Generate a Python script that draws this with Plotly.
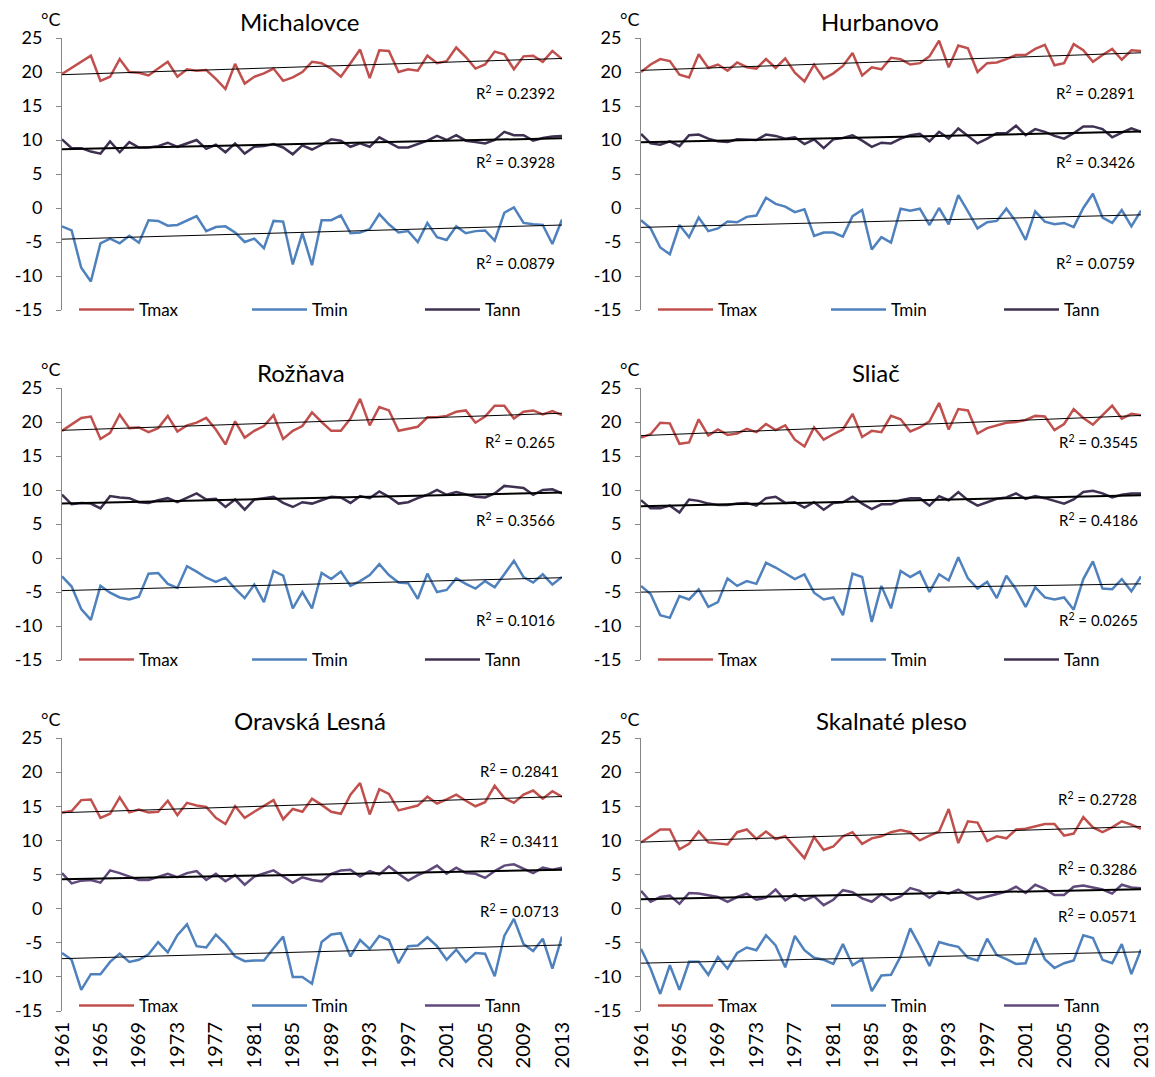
import plotly.graph_objects as go
import numpy as np

W, H = 1155, 1077
years = list(range(1961, 2014))
tick_years = list(range(1961, 2014, 4))
y_ticks = [-15, -10, -5, 0, 5, 10, 15, 20, 25]
y_ticktext = ["-15", "-10", "-5", "0", "5", "10", "15", "20", "25"]

# ---- data (°C), 1961..2013 ----
michalovce_tmax = [19.7, 20.6, 21.5, 22.4, 18.7, 19.3, 21.9, 20.0, 19.9, 19.5,
                   20.5, 21.5, 19.3, 20.4, 20.2, 20.3, 19.0, 17.5, 21.2, 18.3,
                   19.3, 19.8, 20.5, 18.7, 19.2, 20.0, 21.5, 21.3, 20.5, 19.3,
                   21.3, 23.3, 19.1, 23.2, 23.1, 20.0, 20.4, 20.2, 22.4, 21.3,
                   21.6, 23.6, 22.2, 20.5, 21.1, 23.0, 22.6, 20.4, 22.3, 22.4,
                   21.5, 23.1, 21.9]
michalovce_tmin = [-2.7, -3.3, -8.8, -10.8, -5.2, -4.5, -5.2, -4.1, -5.1, -1.8,
                   -1.9, -2.6, -2.5, -1.8, -1.2, -3.4, -2.8, -2.7, -3.6, -5.0,
                   -4.5, -5.9, -1.9, -2.0, -8.3, -3.7, -8.4, -1.8, -1.8, -1.1,
                   -3.7, -3.6, -3.1, -0.9, -2.4, -3.6, -3.4, -5.0, -2.2, -4.3,
                   -4.7, -2.7, -3.7, -3.4, -3.3, -4.8, -0.7, 0.1, -2.2, -2.4,
                   -2.5, -5.3, -1.7]
michalovce_tann = [10.1, 8.8, 8.8, 8.3, 8.0, 9.8, 8.2, 9.7, 8.9, 8.9,
                   9.1, 9.6, 9.0, 9.5, 10.0, 8.7, 9.3, 8.2, 9.5, 8.0,
                   9.0, 9.1, 9.4, 8.9, 7.9, 9.2, 8.6, 9.3, 10.1, 9.9,
                   9.0, 9.5, 9.0, 10.4, 9.6, 8.9, 8.9, 9.4, 9.9, 10.6,
                   10.0, 10.7, 9.9, 9.7, 9.5, 10.0, 11.2, 10.7, 10.7, 9.9,
                   10.3, 10.5, 10.6]

hurbanovo_tmax = [20.0, 21.1, 21.9, 21.6, 19.6, 19.2, 22.6, 20.6, 21.1, 20.2,
                  21.4, 20.7, 20.5, 21.9, 20.6, 22.0, 19.9, 18.6, 21.1, 19.0,
                  19.8, 20.9, 22.8, 19.5, 20.7, 20.4, 22.1, 21.9, 21.1, 21.3,
                  22.3, 24.6, 20.7, 23.9, 23.5, 20.0, 21.3, 21.4, 21.9, 22.5,
                  22.5, 23.4, 24.0, 21.0, 21.3, 24.1, 23.2, 21.5, 22.5, 23.4,
                  21.8, 23.2, 23.1]
hurbanovo_tmin = [-1.8, -3.0, -5.8, -6.8, -2.5, -4.3, -1.4, -3.4, -3.0, -2.0,
                  -2.1, -1.3, -1.1, 1.5, 0.6, 0.2, -0.6, -0.2, -4.1, -3.6,
                  -3.6, -4.2, -1.2, -0.3, -6.1, -4.3, -5.1, -0.1, -0.4, -0.1,
                  -2.5, 0.0, -2.4, 1.9, -0.5, -3.0, -2.1, -1.9, -0.1, -2.0,
                  -4.7, -0.5, -2.0, -2.4, -2.2, -2.8, 0.0, 2.1, -1.4, -2.2,
                  -0.3, -2.7, -0.4]
hurbanovo_tann = [10.9, 9.5, 9.3, 9.8, 9.1, 10.7, 10.8, 10.2, 9.8, 9.7,
                  10.1, 10.0, 10.0, 10.8, 10.6, 10.2, 10.4, 9.4, 10.1, 8.8,
                  10.1, 10.3, 10.7, 9.9, 9.0, 9.6, 9.5, 10.2, 10.7, 10.9,
                  9.8, 11.2, 10.2, 11.7, 10.6, 9.5, 10.2, 11.0, 11.0, 12.1,
                  10.7, 11.6, 11.2, 10.6, 10.2, 11.0, 12.0, 12.0, 11.6, 10.4,
                  11.1, 11.7, 11.2]

roznava_tmax = [18.7, 19.6, 20.6, 20.8, 17.5, 18.4, 21.1, 19.1, 19.2, 18.5,
                19.1, 20.9, 18.6, 19.5, 19.9, 20.6, 18.9, 16.7, 20.1, 17.7,
                18.7, 19.4, 21.0, 17.5, 18.7, 19.4, 21.4, 20.0, 18.7, 18.7,
                20.5, 23.4, 19.5, 22.2, 21.7, 18.7, 19.0, 19.3, 20.7, 20.7,
                20.9, 21.5, 21.7, 19.9, 20.8, 22.4, 22.4, 20.5, 21.5, 21.7,
                21.1, 21.6, 21.0]
roznava_tmin = [-2.7, -4.2, -7.5, -9.1, -4.1, -5.1, -5.8, -6.1, -5.7, -2.3,
                -2.2, -3.8, -4.4, -1.2, -2.0, -2.9, -3.5, -2.9, -4.5, -5.9,
                -3.9, -6.5, -1.9, -2.6, -7.4, -5.0, -7.4, -2.2, -3.1, -2.0,
                -4.1, -3.4, -2.5, -0.9, -2.5, -3.6, -3.7, -6.0, -2.3, -5.0,
                -4.7, -3.0, -3.8, -4.5, -3.4, -4.3, -2.4, -0.4, -2.8, -3.6,
                -2.4, -3.9, -2.8]
roznava_tann = [9.3, 7.9, 8.1, 8.0, 7.3, 9.1, 8.9, 8.8, 8.2, 8.1,
                8.5, 8.8, 8.2, 8.9, 9.5, 8.6, 8.7, 7.5, 8.6, 7.1,
                8.6, 8.8, 9.0, 8.1, 7.5, 8.2, 8.0, 8.5, 9.0, 8.9,
                8.1, 9.1, 8.8, 9.8, 9.0, 8.0, 8.2, 8.8, 9.3, 10.0,
                9.3, 9.7, 9.3, 9.0, 8.9, 9.5, 10.6, 10.4, 10.3, 9.3,
                10.0, 10.1, 9.5]

sliac_tmax = [17.7, 18.2, 19.9, 19.8, 16.8, 17.0, 20.4, 18.0, 18.9, 18.1,
              18.3, 19.0, 18.5, 19.7, 18.8, 19.5, 17.4, 16.4, 19.2, 17.4,
              18.2, 18.9, 21.2, 17.8, 18.7, 18.5, 20.9, 20.4, 18.6, 19.2,
              20.1, 22.8, 18.9, 21.9, 21.7, 18.3, 19.1, 19.5, 19.9, 20.0,
              20.3, 20.9, 20.8, 18.8, 19.7, 21.9, 20.6, 19.6, 21.0, 22.4,
              20.5, 21.2, 21.0]
sliac_tmin = [-4.1, -5.3, -8.4, -8.8, -5.6, -6.1, -4.6, -7.2, -6.5, -3.0,
              -4.1, -3.4, -3.8, -0.7, -1.4, -2.3, -3.1, -2.4, -5.1, -6.1,
              -5.8, -8.4, -2.3, -2.8, -9.4, -4.1, -7.4, -1.9, -2.8, -2.0,
              -5.0, -2.4, -3.3, 0.1, -3.0, -4.5, -3.5, -5.9, -2.6, -4.6,
              -7.2, -4.3, -5.8, -6.1, -5.8, -7.6, -3.1, -0.5, -4.5, -4.6,
              -3.1, -4.9, -2.7]
sliac_tann = [8.5, 7.3, 7.3, 7.7, 6.7, 8.6, 8.4, 8.0, 7.8, 7.8,
              8.0, 8.1, 7.7, 8.8, 9.0, 8.1, 8.2, 7.4, 8.2, 7.1,
              8.1, 8.2, 9.0, 8.0, 7.2, 7.9, 7.9, 8.5, 8.8, 8.8,
              7.7, 9.1, 8.5, 9.7, 8.5, 7.7, 8.2, 8.7, 8.9, 9.5,
              8.7, 9.1, 8.8, 8.4, 8.0, 8.6, 9.7, 9.9, 9.5, 8.9,
              9.3, 9.5, 9.5]

oravska_tmax = [14.1, 14.3, 15.9, 16.0, 13.3, 13.9, 16.3, 14.1, 14.5, 14.1,
                14.2, 15.8, 13.7, 15.5, 15.1, 14.9, 13.3, 12.4, 15.0, 13.3,
                14.2, 15.0, 15.9, 13.1, 14.6, 14.2, 16.1, 15.2, 14.2, 13.9,
                16.7, 18.4, 13.8, 17.5, 16.8, 14.4, 14.7, 15.1, 16.4, 15.4,
                16.0, 16.7, 15.8, 15.0, 15.6, 18.0, 16.2, 15.5, 16.7, 17.3,
                16.1, 17.2, 16.4]
oravska_tmin = [-6.5, -7.5, -11.9, -9.6, -9.6, -7.8, -6.6, -7.8, -7.5, -6.7,
                -4.9, -6.4, -3.9, -2.3, -5.5, -5.7, -3.8, -5.2, -7.0, -7.7,
                -7.6, -7.6, -5.8, -4.1, -10.0, -10.0, -11.0, -4.9, -3.8, -3.6,
                -7.0, -4.6, -5.9, -4.0, -4.6, -8.0, -5.5, -5.4, -4.2, -5.5,
                -7.5, -6.0, -7.8, -6.5, -6.6, -9.9, -4.0, -1.5, -5.2, -6.2,
                -4.4, -8.8, -4.1]
oravska_tann = [5.2, 3.7, 4.1, 4.2, 3.8, 5.6, 5.2, 4.7, 4.2, 4.2,
                4.7, 5.1, 4.6, 5.2, 5.5, 4.2, 5.1, 4.0, 4.9, 3.5,
                4.7, 5.1, 5.6, 4.7, 3.8, 4.6, 4.2, 4.0, 5.1, 5.6,
                5.7, 4.7, 5.5, 5.0, 6.2, 5.1, 4.1, 4.9, 5.5, 6.3,
                5.1, 6.0, 5.2, 5.1, 4.5, 5.5, 6.3, 6.5, 5.8, 5.2,
                6.0, 5.7, 6.0]

skalnate_tmax = [9.7, 10.7, 11.6, 11.6, 8.7, 9.5, 11.3, 9.7, 9.6, 9.4,
                 11.2, 11.6, 10.2, 11.3, 10.2, 10.6, 9.0, 7.4, 10.5, 8.6,
                 9.1, 10.6, 11.2, 9.5, 10.3, 10.6, 11.2, 11.5, 11.2, 10.0,
                 10.7, 11.3, 14.6, 9.6, 12.8, 12.6, 9.9, 10.6, 10.3, 11.6,
                 11.7, 12.0, 12.4, 12.4, 10.7, 11.0, 13.4, 11.9, 11.2, 11.9,
                 12.8, 12.3, 11.7]
skalnate_tmin = [-5.9, -8.8, -12.5, -8.3, -11.9, -7.8, -7.8, -9.7, -7.1, -8.8,
                 -6.5, -5.7, -6.1, -3.9, -5.4, -8.6, -4.0, -6.1, -7.2, -7.5,
                 -8.1, -5.2, -8.3, -7.4, -12.1, -9.8, -9.7, -7.0, -2.9, -5.5,
                 -8.4, -4.9, -5.3, -5.6, -7.2, -7.6, -4.4, -6.8, -7.4, -8.1,
                 -8.0, -4.3, -7.4, -8.7, -8.0, -7.6, -3.9, -4.3, -7.5, -8.0,
                 -5.2, -9.6, -6.0]
skalnate_tann = [2.6, 1.0, 1.7, 1.9, 0.7, 2.3, 2.2, 2.0, 1.7, 1.0,
                 1.7, 2.2, 1.3, 1.6, 2.8, 1.2, 2.1, 1.2, 1.8, 0.5,
                 1.3, 2.7, 2.4, 1.5, 1.0, 2.1, 1.2, 1.8, 3.0, 2.6,
                 1.6, 2.5, 2.2, 2.8, 2.0, 1.4, 1.8, 2.2, 2.5, 3.2,
                 2.3, 3.5, 2.9, 2.0, 2.0, 3.2, 3.4, 3.1, 2.8, 2.2,
                 3.5, 3.1, 3.0]

station_names = ["Michalovce", "Hurbanovo", "Rožňava", "Sliač", "Oravská Lesná", "Skalnaté pleso"]
r2_tmax = ["0.2392", "0.2891", "0.265", "0.3545", "0.2841", "0.2728"]
r2_tann = ["0.3928", "0.3426", "0.3566", "0.4186", "0.3411", "0.3286"]
r2_tmin = ["0.0879", "0.0759", "0.1016", "0.0265", "0.0713", "0.0571"]
series_names = ["Tmax", "Tmin", "Tann"]

data = [
    (michalovce_tmax, michalovce_tmin, michalovce_tann),
    (hurbanovo_tmax, hurbanovo_tmin, hurbanovo_tann),
    (roznava_tmax, roznava_tmin, roznava_tann),
    (sliac_tmax, sliac_tmin, sliac_tann),
    (oravska_tmax, oravska_tmin, oravska_tann),
    (skalnate_tmax, skalnate_tmin, skalnate_tann),
]

# ---- styling / layout (pixel geometry) ----
RED = "#C0504D"
BLUE = "#4F81BD"
TANN_DARK = "#3F3151"
TANN_PURPLE = "#604A7B"
FONT = "Lato"
AXC = "#868686"

col_px = [(62, 562), (641, 1141)]
row_px = [(38, 310), (388, 660), (738, 1011)]
legend_y_px = [310, 660, 1006]
title_px = [(300, 22), (880, 22), (301, 372), (876, 372), (310, 720), (891, 720)]
r2_px = [
    (557, [92, 262, 162]), (1137, [92, 262, 162]),
    (557, [441, 619, 519]), (1140, [441, 619, 519]),
    (561, [770, 910, 840]), (1139, [798, 915, 868]),
]

def px_x(x):
    return x / W

def px_y(y):
    return 1 - y / H

fig = go.Figure()
annotations = []
layout = dict(
    width=W, height=H,
    margin=dict(l=0, r=0, t=0, b=0, autoexpand=False),
    paper_bgcolor="white", plot_bgcolor="white",
    font=dict(family=FONT, size=17, color="#000000"),
)

for k in range(6):
    r, c = divmod(k, 2)
    x0, x1 = col_px[c]
    yt, yb = row_px[r]
    sfx = "" if k == 0 else str(k + 1)
    xa, ya = "x" + sfx, "y" + sfx
    leg = "legend" + sfx
    tann_col = TANN_PURPLE if r == 2 else TANN_DARK
    colors = [RED, BLUE, tann_col]

    layout["xaxis" + sfx] = dict(
        domain=[px_x(x0), px_x(x1)], anchor=ya, range=[1961, 2013],
        showgrid=False, zeroline=False, showline=False, ticks="",
        tickvals=tick_years, ticktext=[str(t) for t in tick_years],
        tickangle=-90, showticklabels=(r == 2), automargin=False,
        ticklabelstandoff=6,
        tickfont=dict(family=FONT, size=20),
    )
    layout["yaxis" + sfx] = dict(
        domain=[px_y(yb), px_y(yt)], anchor=xa, range=[-15, 25],
        tickvals=y_ticks, ticktext=y_ticktext, showgrid=False, zeroline=False,
        showline=True, linecolor=AXC, linewidth=1, automargin=False,
        ticks="outside", ticklen=5, tickcolor=AXC, ticklabelstandoff=10,
        tickfont=dict(family=FONT, size=18),
    )
    layout[leg] = dict(
        orientation="h", x=px_x(x0 + 12), xanchor="left",
        y=px_y(legend_y_px[r]), yanchor="middle",
        entrywidth=103, entrywidthmode="pixels", itemwidth=55,
        bgcolor="rgba(0,0,0,0)", font=dict(family=FONT, size=17),
        tracegroupgap=0,
    )

    for s in range(3):
        fig.add_trace(go.Scatter(
            x=years, y=data[k][s], mode="lines", name=series_names[s],
            line=dict(color=colors[s], width=2.5),
            xaxis=xa, yaxis=ya, legend=leg, showlegend=True,
        ))
    for s in range(3):
        coef = np.polyfit(years, data[k][s], 1)
        ends = [years[0], years[-1]]
        fig.add_trace(go.Scatter(
            x=ends, y=list(np.polyval(coef, ends)), mode="lines",
            line=dict(color="#000000", width=2 if s == 2 else 1),
            xaxis=xa, yaxis=ya, showlegend=False, hoverinfo="skip",
        ))

    tx, ty = title_px[k]
    annotations.append(dict(text=station_names[k], x=px_x(tx), y=px_y(ty),
                            xref="paper", yref="paper", showarrow=False,
                            xanchor="center", yanchor="middle",
                            font=dict(family=FONT, size=24)))
    annotations.append(dict(text="°C", x=px_x(x0 - 11), y=px_y(yt - 19),
                            xref="paper", yref="paper", showarrow=False,
                            xanchor="center", yanchor="middle",
                            font=dict(family=FONT, size=18)))
    rx, rys = r2_px[k]
    for s, vals in enumerate([r2_tmax, r2_tmin, r2_tann]):
        annotations.append(dict(text="R<sup>2</sup> = " + vals[k], x=px_x(rx), y=px_y(rys[s]),
                                xref="paper", yref="paper", showarrow=False,
                                xanchor="right", yanchor="middle",
                                font=dict(family=FONT, size=15)))

layout["annotations"] = annotations
fig.update_layout(**layout)
fig.write_html("out.html", config={"displayModeBar": False},
               post_script="document.body.style.margin='0';document.body.style.overflow='hidden';")
